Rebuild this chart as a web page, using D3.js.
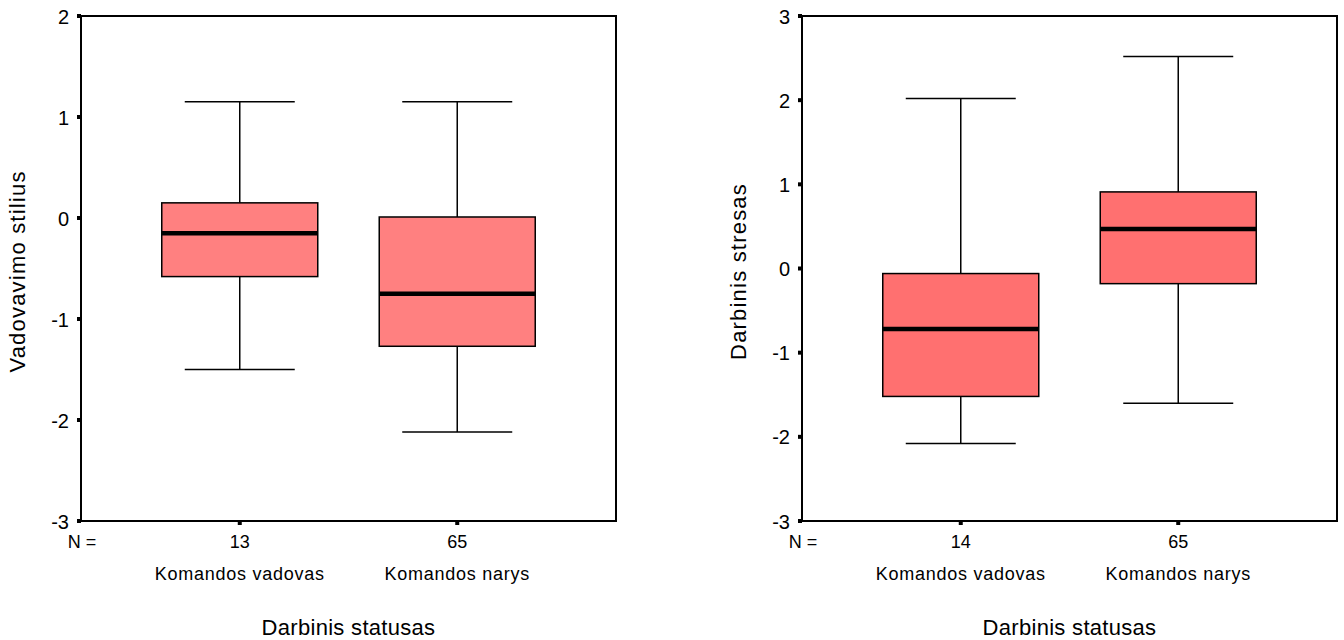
<!DOCTYPE html>
<html><head><meta charset="utf-8">
<script src="https://cdn.jsdelivr.net/npm/d3@7"></script>
<style>body{margin:0;background:#fff}svg{display:block;font-family:Arial,"Liberation Sans",sans-serif}</style>
</head><body><svg id="c" width="1344" height="640"></svg>
<script>
const categories = ["Komandos vadovas", "Komandos narys"];
const xTitle = "Darbinis statusas";
// left panel
const leftTitle = "Vadovavimo stilius";
const leftN = [13, 65];
const leftStats = [ // [min, q1, median, q3, max]
  [-1.50, -0.58, -0.15, 0.15, 1.15],
  [-2.12, -1.27, -0.75, 0.01, 1.15]
];
const leftTicks = [2, 1, 0, -1, -2, -3];
// right panel
const rightTitle = "Darbinis stresas";
const rightN = [14, 65];
const rightStats = [
  [-2.08, -1.52, -0.72, -0.06, 2.02],
  [-1.60, -0.18, 0.47, 0.91, 2.52]
];
const rightTicks = [3, 2, 1, 0, -1, -2, -3];

const svg = d3.select("#c");

function panel(x0, x1, domain, ticks, stats, ns, ytitle, fill) {
  const top = 16, bottom = 521;
  const y = d3.scaleLinear().domain(domain).range([bottom, top]);
  const x = d3.scalePoint().domain(categories).range([x0, x1]).padding(0.73);
  const g = svg.append("g");
  const bw = 156, cw = 110;
  stats.forEach((s, i) => {
    const cx = x(categories[i]);
    g.append("line").attr("x1", cx).attr("x2", cx).attr("y1", y(s[4])).attr("y2", y(s[3])).attr("stroke", "#000").attr("stroke-width", 1.5);
    g.append("line").attr("x1", cx).attr("x2", cx).attr("y1", y(s[1])).attr("y2", y(s[0])).attr("stroke", "#000").attr("stroke-width", 1.5);
    g.append("line").attr("x1", cx - cw/2).attr("x2", cx + cw/2).attr("y1", y(s[4])).attr("y2", y(s[4])).attr("stroke", "#000").attr("stroke-width", 1.5);
    g.append("line").attr("x1", cx - cw/2).attr("x2", cx + cw/2).attr("y1", y(s[0])).attr("y2", y(s[0])).attr("stroke", "#000").attr("stroke-width", 1.5);
    g.append("rect").attr("x", cx - bw/2).attr("y", y(s[3])).attr("width", bw).attr("height", y(s[1]) - y(s[3]))
      .attr("fill", fill).attr("stroke", "#000").attr("stroke-width", 1.5);
    g.append("line").attr("x1", cx - bw/2).attr("x2", cx + bw/2).attr("y1", y(s[2])).attr("y2", y(s[2])).attr("stroke", "#000").attr("stroke-width", 4.5);
    // x tick square
    g.append("rect").attr("x", cx - 2).attr("y", bottom).attr("width", 4).attr("height", 4).attr("fill", "#000");
    g.append("text").attr("x", cx).attr("y", 548).attr("text-anchor", "middle").attr("font-size", 18).text(ns[i]);
    g.append("text").attr("x", cx).attr("y", 580).attr("text-anchor", "middle").attr("font-size", 18)
      .attr("letter-spacing", 0.75).text(categories[i]);
  });
  // frame
  g.append("rect").attr("x", x0).attr("y", top).attr("width", x1 - x0).attr("height", bottom - top)
    .attr("fill", "none").attr("stroke", "#000").attr("stroke-width", 2);
  // y ticks
  ticks.forEach(t => {
    g.append("rect").attr("x", x0 - 4).attr("y", y(t) - 2).attr("width", 4).attr("height", 4).attr("fill", "#000");
    g.append("text").attr("x", x0 - 12).attr("y", y(t) + 7.5).attr("text-anchor", "end").attr("font-size", 20).text(t);
  });
  g.append("text").attr("x", x0 + 1).attr("y", 548).attr("text-anchor", "middle").attr("font-size", 18).text("N =");
  g.append("text").attr("x", (x0 + x1) / 2).attr("y", 635).attr("text-anchor", "middle").attr("font-size", 22)
    .attr("letter-spacing", 0.3).text(xTitle);
  g.append("text").attr("transform", `translate(${x0 - 56},${(top + bottom) / 2 + 3}) rotate(-90)`)
    .attr("text-anchor", "middle").attr("font-size", 22).attr("letter-spacing", 1.2).text(ytitle);
}

panel(81, 616, [-3, 2], leftTicks, leftStats, leftN, leftTitle, "#ff8080");
panel(802, 1337, [-3, 3], rightTicks, rightStats, rightN, rightTitle, "#ff7070");
</script></body></html>
